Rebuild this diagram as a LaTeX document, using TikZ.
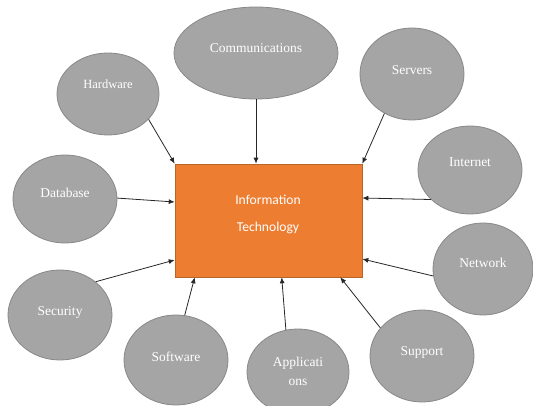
\documentclass[tikz,border=0pt]{standalone}
\usepackage{fontspec}
\setmainfont{Liberation Serif}
\newfontfamily\calib{Carlito}
\usetikzlibrary{shapes.geometric,arrows.meta}
\definecolor{itorange}{HTML}{ED7D31}
\definecolor{itedge}{HTML}{B8652A}
\definecolor{bubblefill}{HTML}{A5A5A5}
\definecolor{bubbleline}{HTML}{888888}
\begin{document}
\begin{tikzpicture}[x=1pt,y=-1pt,
  bubble/.style={ellipse,draw=bubbleline,fill=bubblefill,line width=0.8pt,inner sep=0pt},
  lbl/.style={text=white,font=\fontsize{13.5}{15}\selectfont,inner sep=0pt},
  itlbl/.style={text=white,font=\calib\fontsize{13.6}{15}\selectfont,inner sep=0pt},
  arr/.style={draw=black!85,line width=0.8pt,-{Latex[length=6pt,width=5pt]}}]
\useasboundingbox (0,0) rectangle (533,406);
% central box
\node[draw=itedge,fill=itorange,line width=0.6pt,minimum width=187pt,minimum height=113pt,inner sep=0pt] (it) at (268.5,220.5) {};
\node[itlbl] (itl1) at (268,200) {Information};
\node[itlbl] (itl2) at (268,228) {Technology};
% bubbles
\node[bubble,minimum width=164pt,minimum height=92pt] (comm) at (256,53) {};
\node[lbl] (commt) at (256,48) {Communications};
\node[bubble,minimum width=102pt,minimum height=82pt] (hw) at (108,94) {};
\node[lbl,font=\fontsize{12.5}{14}\selectfont] (hwt) at (108,84) {Hardware};
\node[bubble,minimum width=104pt,minimum height=92pt] (srv) at (412,74) {};
\node[lbl] (srvt) at (412,70) {Servers};
\node[bubble,minimum width=104pt,minimum height=88pt] (inet) at (470,170) {};
\node[lbl] (inett) at (470,162) {Internet};
\node[bubble,minimum width=104pt,minimum height=88pt] (db) at (65,199) {};
\node[lbl] (dbt) at (65,193) {Database};
\node[bubble,minimum width=104pt,minimum height=90pt] (sec) at (60,315) {};
\node[lbl] (sect) at (60,312) {Security};
\node[bubble,minimum width=104pt,minimum height=90pt] (sw) at (176,360) {};
\node[lbl] (swt) at (176,357) {Software};
\node[bubble,minimum width=102pt,minimum height=86pt] (app) at (298,372) {};
\node[lbl] (appt1) at (298,363) {Applicati};
\node[lbl] (appt2) at (298,382) {ons};
\node[bubble,minimum width=104pt,minimum height=92pt] (sup) at (422,356) {};
\node[lbl] (supt) at (422,352) {Support};
\node[bubble,minimum width=100pt,minimum height=92pt] (net) at (483,269) {};
\node[lbl] (nett) at (483,263) {Network};
% connectors
\draw[arr] (hw.-32) -- (it.north west);
\draw[arr] (comm.south) -- (comm.south |- it.north);
\draw[arr] (srv.-125) -- (it.north east);
\draw[arr] (inet.-143) -- ([yshift=22.5pt]it.east);
\draw[arr] (net.-172) -- ([yshift=-38.5pt]it.east);
\draw[arr] (sup.146) -- ([xshift=-22pt]it.south east);
\draw[arr] (app.106) -- ([xshift=107pt]it.south west);
\draw[arr] (sw.79) -- ([xshift=20pt]it.south west);
\draw[arr] (sec.43) -- ([yshift=-39.5pt]it.west);
\draw[arr] (db.1) -- ([yshift=18.5pt]it.west);
\end{tikzpicture}
\end{document}
